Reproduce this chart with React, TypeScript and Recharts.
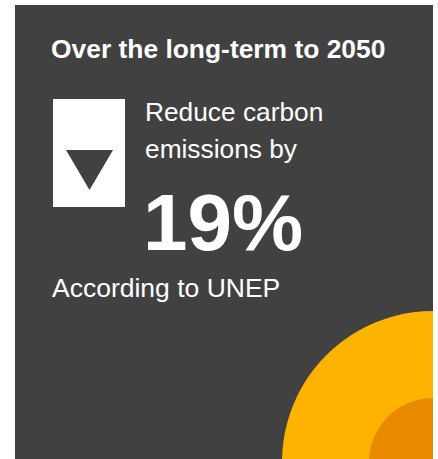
import { PieChart, Pie, Cell } from "recharts";

// headline figure and texts
const title = "Over the long-term to 2050";
const subtitleLines = ["Reduce carbon", "emissions by"];
const reductionPct = [19];
const source = "According to UNEP";

// decorative circle: total vs reduced share (by area)
const totalShare = [{ name: "total", value: 100 }];
const reducedShare = [{ name: "reduced", value: reductionPct[0] }];

const BG = "#414141";
const OUTER = "#FEB300";
const INNER = "#E98A00";

const W = 418;
const H = 454;
const OUTER_R = 151;
const INNER_R = 64;

export default function App() {
  return (
    <div style={{ position: "absolute", left: 0, top: 0, width: 438, height: 459, overflow: "hidden", background: "#fff" }}>
      <div style={{ position: "absolute", left: 15, top: 5, width: W, height: H, background: BG }}>
        <PieChart width={W} height={H} margin={{ top: 0, right: 0, bottom: 0, left: 0 }}>
          <Pie
            data={totalShare}
            dataKey="value"
            cx={W}
            cy={457}
            innerRadius={0}
            outerRadius={OUTER_R}
            startAngle={0}
            endAngle={360}
            stroke="none"
            isAnimationActive={false}
          >
            {totalShare.map((d) => (
              <Cell key={d.name} fill={OUTER} />
            ))}
          </Pie>
          <Pie
            data={reducedShare}
            dataKey="value"
            cx={W}
            cy={457}
            innerRadius={0}
            outerRadius={INNER_R}
            startAngle={0}
            endAngle={360}
            stroke="none"
            isAnimationActive={false}
          >
            {reducedShare.map((d) => (
              <Cell key={d.name} fill={INNER} />
            ))}
          </Pie>
        </PieChart>
      </div>
      <svg
        width={438}
        height={459}
        style={{ position: "absolute", left: 0, top: 0, pointerEvents: "none" }}
        fontFamily="'Liberation Sans', Arial, sans-serif"
      >
        <text x={51} y={58} fill="#fff" fontSize={26.4} fontWeight="bold">
          {title}
        </text>
        <rect x={53} y={99} width={72} height={108} fill="#fff" />
        <polygon points="66,150 113,150 89.5,190" fill={BG} />
        {subtitleLines.map((line, i) => (
          <text key={line} x={145} y={121 + i * 36.5} fill="#fff" fontSize={26.3}>
            {line}
          </text>
        ))}
        <text x={143} y={250} fill="#fff" fontSize={80} fontWeight="bold">
          {reductionPct[0]}%
        </text>
        <text x={52} y={297} fill="#fff" fontSize={26.5}>
          {source}
        </text>
      </svg>
    </div>
  );
}
